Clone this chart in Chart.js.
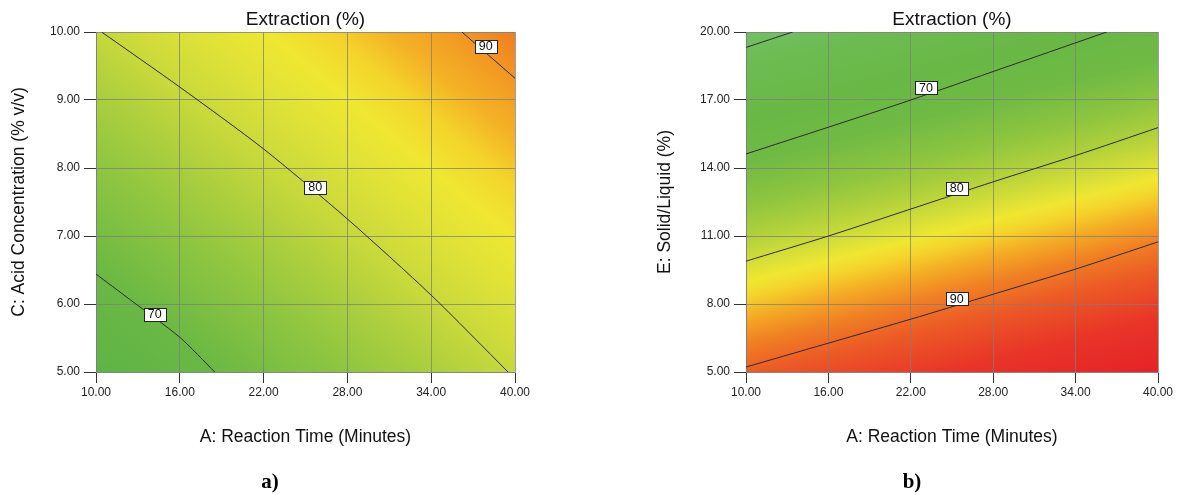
<!DOCTYPE html>
<html>
<head>
<meta charset="utf-8">
<script src="https://cdn.jsdelivr.net/npm/chart.js@4.4.1/dist/chart.umd.min.js"></script>
<style>
  html, body { margin: 0; padding: 0; background: #fff; }
  #wrap { position: relative; width: 1178px; height: 495px; overflow: hidden; }
  #wrap canvas { position: absolute; top: 0; }
  #cA { left: 0; }
  #cB { left: 589px; }
  .tag { position: absolute; top: 467px; font: bold 21px "Liberation Serif", "Times New Roman", serif; color: #000; transform: translateX(-50%); line-height: 28px; }
</style>
</head>
<body>
<div id="wrap">
  <canvas id="cA" width="589" height="495"></canvas>
  <canvas id="cB" width="589" height="495"></canvas>
  <div class="tag" style="left:270px">a)</div>
  <div class="tag" style="left:912px">b)</div>
</div>
<script>
// ---- axis ticks ----
const timeTicks  = [10, 16, 22, 28, 34, 40];
const acidTicks  = [5, 6, 7, 8, 9, 10];
const solidTicks = [5, 8, 11, 14, 17, 20];

// ---- panel a: Extraction (%) vs reaction time and acid concentration ----
const a70Time = [10, 12.4, 16, 18.5];
const a70Acid = [6.44, 6.07, 5.51, 5.0];
const a80Time = [10.4, 16, 22, 28, 34, 39.5];
const a80Acid = [10, 9.19, 8.28, 7.25, 6.13, 5.0];
const a90Time = [36.2, 40];
const a90Acid = [10, 9.32];
const aLevels    = [70, 80, 90];
const aLabelTime = [14.2, 25.7, 37.9];
const aLabelAcid = [5.85, 7.72, 9.79];

// ---- panel b: Extraction (%) vs reaction time and solid/liquid ratio ----
const b60Time = [10, 13.4];
const b60Solid = [19.32, 20];
const b70Time = [10, 16, 22, 36.27];
const b70Solid = [14.62, 15.8, 17.0, 20];
const b80Time = [10, 16, 22, 28, 34, 40];
const b80Solid = [9.89, 11.0, 12.19, 13.39, 14.55, 15.78];
const b90Time = [10, 22, 28, 34, 40];
const b90Solid = [5.22, 7.33, 8.43, 9.54, 10.74];
const bLevels     = [70, 80, 90];
const bLabelTime  = [23.1, 25.35, 25.35];
const bLabelSolid = [17.54, 13.11, 8.24];

// ---- styling ----
const FONT = 'Liberation Sans, Arial, sans-serif';
Chart.defaults.font.family = FONT;

const toPoints = (xs, ys) => xs.map((v, i) => ({ x: v, y: ys[i] }));

function contour(xs, ys) {
  return {
    data: toPoints(xs, ys),
    showLine: true,
    borderColor: '#2b2b2b',
    borderWidth: 1,
    pointRadius: 0,
    tension: 0.25,
    fill: false
  };
}

// colour field painted under the grid, graded across the plot
function fieldPlugin(from, to, stops) {
  return {
    id: 'field',
    beforeDraw(chart) {
      const { ctx, chartArea: a, scales: { x, y } } = chart;
      const g = ctx.createLinearGradient(
        x.getPixelForValue(from[0]), y.getPixelForValue(from[1]),
        x.getPixelForValue(to[0]), y.getPixelForValue(to[1]));
      stops.forEach(s => g.addColorStop(s[0], s[1]));
      ctx.save();
      ctx.fillStyle = g;
      ctx.fillRect(a.left, a.top, a.right - a.left, a.bottom - a.top);
      ctx.restore();
    }
  };
}

// titles and boxed contour labels
function overlayPlugin(o) {
  return {
    id: 'overlay',
    afterDraw(chart) {
      const { ctx, chartArea: a, scales: { x, y } } = chart;
      const cx = (a.left + a.right) / 2;
      const cy = (a.top + a.bottom) / 2;
      ctx.save();
      ctx.fillStyle = '#111';
      ctx.textAlign = 'center';
      ctx.textBaseline = 'middle';
      ctx.font = '19px ' + FONT;
      ctx.fillText(o.title, cx, 20);
      ctx.font = '17.5px ' + FONT;
      ctx.fillText(o.xTitle, cx, 437);
      ctx.save();
      ctx.translate(o.yTitleX, cy);
      ctx.rotate(-Math.PI / 2);
      ctx.fillText(o.yTitle, 0, 0);
      ctx.restore();

      ctx.font = '12.5px ' + FONT;
      o.levels.forEach((lv, i) => {
        const px = x.getPixelForValue(o.lx[i]);
        const py = y.getPixelForValue(o.ly[i]);
        const txt = String(lv);
        const w = Math.round(ctx.measureText(txt).width) + 8;
        const h = 13;
        const l = Math.round(px - w / 2) + 0.5;
        const t = Math.round(py - h / 2) + 0.5;
        ctx.fillStyle = '#fff';
        ctx.fillRect(l, t, w, h);
        ctx.strokeStyle = '#222';
        ctx.lineWidth = 1;
        ctx.strokeRect(l, t, w, h);
        ctx.fillStyle = '#111';
        ctx.fillText(txt, px, py + 0.5);
      });
      ctx.restore();
    }
  };
}

function axis(tickVals, min, max, tickLen, pad, fitProp, fitVal) {
  return {
    type: 'linear',
    min, max,
    afterBuildTicks: ax => { ax.ticks = tickVals.map(v => ({ value: v })); },
    afterFit: ax => { ax[fitProp] = fitVal; },
    grid: { color: 'rgba(125,125,125,0.75)', lineWidth: 1, tickColor: '#333', tickLength: tickLen, drawTicks: true },
    border: { display: true, color: 'rgba(125,125,125,0.75)', width: 1 },
    ticks: {
      color: '#222',
      font: { family: FONT, size: 12 },
      padding: pad,
      maxRotation: 0,
      autoSkip: false,
      callback: v => Number(v).toFixed(2)
    }
  };
}

function makeChart(id, datasets, xAxis, yAxis, padRight, plugins) {
  return new Chart(document.getElementById(id), {
    type: 'scatter',
    data: { datasets },
    options: {
      responsive: false,
      animation: false,
      events: [],
      layout: { padding: { left: 0, right: padRight, top: 32, bottom: 0 } },
      plugins: { legend: { display: false }, tooltip: { enabled: false }, title: { display: false } },
      scales: { x: xAxis, y: yAxis }
    },
    plugins
  });
}

// panel a
makeChart('cA',
  [contour(a70Time, a70Acid), contour(a80Time, a80Acid), contour(a90Time, a90Acid)],
  axis(timeTicks, 10, 40, 11, 2, 'height', 123),
  axis(acidTicks, 5, 10, 12, 4, 'width', 96),
  74,
  [
    fieldPlugin([10, 5], [34.26, 10.99], [
      [0.00, '#5cb446'], [0.144, '#6ab844'], [0.31, '#90c640'], [0.424, '#b0d03d'],
      [0.499, '#c6d83b'], [0.613, '#dfe237'], [0.70, '#efe731'], [0.775, '#f4d42b'],
      [0.845, '#f4b226'], [0.92, '#f29a22'], [1.00, '#ef7e22']
    ]),
    overlayPlugin({
      title: 'Extraction (%)',
      xTitle: 'A: Reaction Time (Minutes)',
      yTitle: 'C: Acid Concentration (% v/v)',
      yTitleX: 19,
      levels: aLevels, lx: aLabelTime, ly: aLabelAcid
    })
  ]);

// panel b
makeChart('cB',
  [contour(b60Time, b60Solid), contour(b70Time, b70Solid), contour(b80Time, b80Solid), contour(b90Time, b90Solid)],
  axis(timeTicks, 10, 40, 11, 2, 'height', 123),
  axis(solidTicks, 5, 20, 12, 4, 'width', 157),
  20,
  [
    fieldPlugin([10, 20], [17.6, 1.6], [
      [0.00, '#72c064'], [0.087, '#6bbb50'], [0.204, '#69b845'], [0.297, '#70ba44'],
      [0.39, '#8ec53f'], [0.46, '#b0d03b'], [0.518, '#d2dd38'], [0.564, '#f0e731'],
      [0.60, '#f4d22b'], [0.646, '#f4aa25'], [0.704, '#f08024'], [0.774, '#ec5a26'],
      [0.879, '#e83528'], [1.00, '#e52227']
    ]),
    overlayPlugin({
      title: 'Extraction (%)',
      xTitle: 'A: Reaction Time (Minutes)',
      yTitle: 'E: Solid/Liquid (%)',
      yTitleX: 76,
      levels: bLevels, lx: bLabelTime, ly: bLabelSolid
    })
  ]);
</script>
</body>
</html>
